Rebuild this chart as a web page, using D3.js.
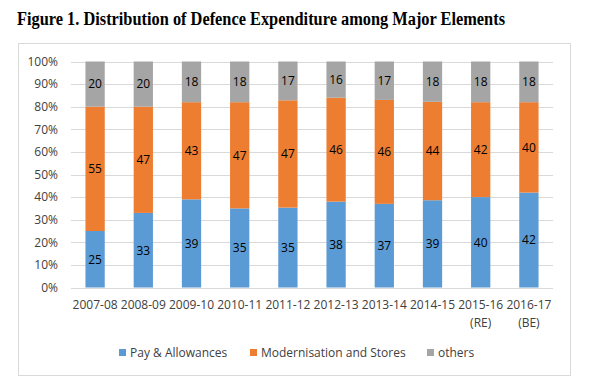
<!DOCTYPE html>
<html>
<head>
<meta charset="utf-8">
<script src="https://cdn.jsdelivr.net/npm/d3@7"></script>
<style>
  body { margin: 0; background: #fff; }
  svg text { font-family: "Open Sans", "Liberation Sans", sans-serif; }
</style>
</head>
<body>
<div id="chart"></div>
<script>
const years = ['2007-08', '2008-09', '2009-10', '2010-11', '2011-12', '2012-13', '2013-14', '2014-15', '2015-16 (RE)', '2016-17 (BE)'];
const pay = [25, 33, 39, 35, 35, 38, 37, 39, 40, 42];
const modernisation = [55, 47, 43, 47, 47, 46, 46, 44, 42, 40];
const others = [20, 20, 18, 18, 17, 16, 17, 18, 18, 18];
const seriesNames = ['Pay & Allowances', 'Modernisation and Stores', 'others'];
const yTicks = [0, 0.1, 0.2, 0.3, 0.4, 0.5, 0.6, 0.7, 0.8, 0.9, 1];

const colors = ['#5b9bd5', '#ed7d31', '#a5a5a5'];
const keys = ['pay', 'mod', 'oth'];

const rows = years.map((y, i) => ({ year: y, pay: pay[i], mod: modernisation[i], oth: others[i] }));

const width = 590, height = 389;
const margin = { left: 71, right: 37, top: 61.5, bottom: 101.5 };

const svg = d3.select('#chart').append('svg')
  .attr('width', width)
  .attr('height', height);

// title
svg.append('text')
  .attr('x', 17)
  .attr('y', 25)
  .attr('textLength', 488)
  .attr('lengthAdjust', 'spacingAndGlyphs')
  .style('font-family', '"Liberation Serif", "Times New Roman", serif')
  .style('font-weight', 'bold')
  .style('font-size', '18px')
  .attr('fill', '#000')
  .text('Figure 1. Distribution of Defence Expenditure among Major Elements');

// chart frame
svg.append('rect')
  .attr('x', 18.5).attr('y', 43.5)
  .attr('width', 552).attr('height', 332)
  .attr('fill', '#fff')
  .attr('stroke', '#d9d9d9');

const xScale = d3.scaleBand()
  .domain(years)
  .range([margin.left, width - margin.right])
  .paddingInner(0.6)
  .paddingOuter(0.3);

const yScale = d3.scaleLinear()
  .domain([0, 1])
  .range([height - margin.bottom, margin.top]);

// gridlines
svg.append('g')
  .selectAll('line')
  .data(yTicks)
  .enter()
  .append('line')
  .attr('x1', margin.left)
  .attr('x2', width - margin.right)
  .attr('y1', d => Math.round(yScale(d)) + 0.5)
  .attr('y2', d => Math.round(yScale(d)) + 0.5)
  .attr('stroke', '#d9d9d9');

const yAxis = d3.axisLeft(yScale)
  .tickValues(yTicks)
  .tickFormat(d3.format('.0%'))
  .tickSize(0)
  .tickPadding(13);

svg.append('g')
  .attr('transform', `translate(${margin.left}, 0)`)
  .call(yAxis)
  .call(g => g.select('.domain').remove())
  .call(g => g.selectAll('text').style('font-size', '12px').attr('fill', '#404040'));

const stack = d3.stack().keys(keys).offset(d3.stackOffsetExpand);
const layers = stack(rows);

const layerG = svg.selectAll('.layer')
  .data(layers)
  .enter()
  .append('g')
  .attr('class', 'layer')
  .attr('fill', (d, i) => colors[i]);

layerG.selectAll('rect')
  .data(d => d)
  .enter()
  .append('rect')
  .attr('x', d => xScale(d.data.year))
  .attr('y', d => yScale(d[1]))
  .attr('width', xScale.bandwidth())
  .attr('height', d => yScale(d[0]) - yScale(d[1]));

layers.forEach(layer => {
  svg.append('g')
    .selectAll('text')
    .data(layer)
    .enter()
    .append('text')
    .attr('x', d => xScale(d.data.year) + xScale.bandwidth() / 2)
    .attr('y', d => (yScale(d[0]) + yScale(d[1])) / 2)
    .attr('dy', '0.36em')
    .attr('text-anchor', 'middle')
    .style('font-size', '12px')
    .attr('fill', '#000')
    .text(d => d.data[layer.key]);
});

// x axis line
svg.append('line')
  .attr('x1', margin.left)
  .attr('x2', width - margin.right)
  .attr('y1', Math.round(yScale(0)) + 0.5)
  .attr('y2', Math.round(yScale(0)) + 0.5)
  .attr('stroke', '#d9d9d9');

// category labels (two lines where needed)
const xLabels = svg.append('g')
  .selectAll('text')
  .data(years)
  .enter()
  .append('text')
  .attr('x', d => xScale(d) + xScale.bandwidth() / 2)
  .attr('y', 309)
  .attr('text-anchor', 'middle')
  .style('font-size', '12px')
  .attr('fill', '#404040');

xLabels.each(function (d) {
  const parts = d.split(' ');
  const t = d3.select(this);
  parts.forEach((p, i) => {
    t.append('tspan')
      .attr('x', xScale(d) + xScale.bandwidth() / 2)
      .attr('dy', i === 0 ? 0 : 18)
      .text(p);
  });
});

// legend
const legendX = [119, 250, 427];
const legend = svg.append('g')
  .selectAll('g')
  .data(seriesNames)
  .enter()
  .append('g')
  .attr('transform', (d, i) => `translate(${legendX[i]}, 353)`);

legend.append('rect')
  .attr('x', 0).attr('y', -4)
  .attr('width', 7).attr('height', 7)
  .attr('fill', (d, i) => colors[i]);

legend.append('text')
  .attr('x', 11)
  .attr('y', 0)
  .attr('dy', '0.36em')
  .style('font-size', '12px')
  .attr('fill', '#404040')
  .text(d => d);
</script>
</body>
</html>
